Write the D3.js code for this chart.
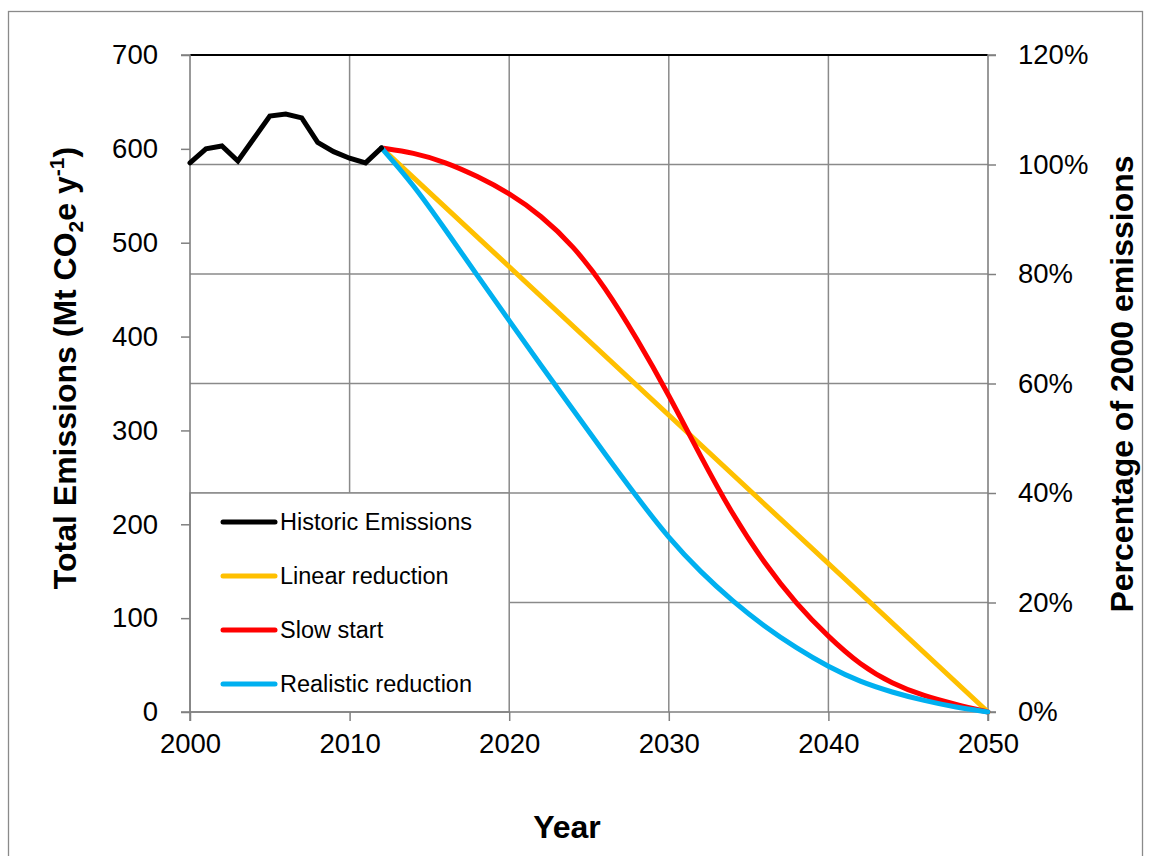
<!DOCTYPE html>
<html>
<head>
<meta charset="utf-8">
<script src="https://cdn.jsdelivr.net/npm/d3@7"></script>
<style>
  html, body { margin: 0; padding: 0; background: #fff; }
  svg { display: block; }
  text { font-family: "Liberation Sans", Arial, sans-serif; fill: #000; }
</style>
</head>
<body>
<svg id="chart" width="1151" height="856"></svg>
<script>
// ---- data ----
const histYears = [2000, 2001, 2002, 2003, 2004, 2005, 2006, 2007, 2008, 2009, 2010, 2011, 2012];
const histValues = [585, 600, 603, 587, 611, 635, 637, 633, 607, 597, 590, 585, 601];

const linearYears = [2012, 2050];
const linearValues = [601, 0];

const projYears = [2012, 2014, 2016, 2018, 2020, 2022, 2024, 2026, 2028, 2030, 2032, 2034, 2036, 2038, 2040, 2042, 2044, 2046, 2048, 2050];
const slowStartValues = [601, 596, 586, 571, 553, 529, 497, 453, 398, 338, 272, 210, 158, 115, 80, 50, 30, 17, 8, 0];
const realisticValues = [601, 562, 514, 465, 417, 369, 322, 275, 229, 185, 149, 118, 91, 68, 48, 32, 21, 12, 5, 0];

const xTicks = [2000, 2010, 2020, 2030, 2040, 2050];
const yLeftTicks = [0, 100, 200, 300, 400, 500, 600, 700];
const yRightTicks = [0, 0.2, 0.4, 0.6, 0.8, 1.0, 1.2];

const seriesNames = ["Historic Emissions", "Linear reduction", "Slow start", "Realistic reduction"];
const seriesColors = ["#000000", "#FFC000", "#FF0000", "#00B0F0"];

// ---- layout ----
const svg = d3.select("#chart");
const L = 190, R = 988, T = 55, B = 712;

const x = d3.scaleLinear().domain([2000, 2050]).range([L, R]);
const yL = d3.scaleLinear().domain([0, 700]).range([B, T]);
const yR = d3.scaleLinear().domain([0, 1.2]).range([B, T]);

const gridColor = "#8a8a8a";

// outer border
svg.append("rect").attr("x", 8.5).attr("y", 11.5).attr("width", 1134).attr("height", 900)
  .attr("fill", "none").attr("stroke", "#8a8a8a").attr("stroke-width", 1.3);

// gridlines
const grid = svg.append("g");
grid.selectAll("line.h").data(yRightTicks.filter(d => d > 0 && d < 1.2)).join("line")
  .attr("x1", L).attr("x2", R).attr("y1", d => yR(d)).attr("y2", d => yR(d))
  .attr("stroke", gridColor).attr("stroke-width", 1.5);
grid.selectAll("line.v").data(xTicks.filter(d => d > 2000 && d < 2050)).join("line")
  .attr("x1", d => x(d)).attr("x2", d => x(d)).attr("y1", T).attr("y2", B)
  .attr("stroke", gridColor).attr("stroke-width", 1.5);

// top border (dark)
svg.append("line").attr("x1", L).attr("x2", R).attr("y1", T).attr("y2", T)
  .attr("stroke", "#000").attr("stroke-width", 2);

// legend box
const legend = svg.append("g");
legend.append("rect").attr("x", L).attr("y", yR(0.4)).attr("width", x(2020) - L).attr("height", B - yR(0.4))
  .attr("fill", "#fff").attr("stroke", gridColor).attr("stroke-width", 1.5);
const legendRowsY = [522, 576, 630, 684];
seriesNames.forEach((name, i) => {
  legend.append("line").attr("x1", 223).attr("x2", 275)
    .attr("y1", legendRowsY[i]).attr("y2", legendRowsY[i])
    .attr("stroke", seriesColors[i]).attr("stroke-width", 5).attr("stroke-linecap", "round");
  legend.append("text").attr("x", 280).attr("y", legendRowsY[i] + 8)
    .attr("font-size", 23.5).text(name);
});

// axes
const axisColor = "#808080";
const gx = svg.append("g").attr("transform", `translate(0,${B})`)
  .call(d3.axisBottom(x).tickValues(xTicks).tickFormat(d3.format("d")).tickSize(9).tickPadding(12));
const gyl = svg.append("g").attr("transform", `translate(${L},0)`)
  .call(d3.axisLeft(yL).tickValues(yLeftTicks).tickSize(9).tickPadding(23));
const gyr = svg.append("g").attr("transform", `translate(${R},0)`)
  .call(d3.axisRight(yR).tickValues(yRightTicks).tickFormat(d3.format(".0%")).tickSize(8).tickPadding(22));
[gx, gyl, gyr].forEach(g => {
  g.select(".domain").attr("stroke", axisColor).attr("stroke-width", 1.6);
  g.selectAll(".tick line").attr("stroke", axisColor).attr("stroke-width", 1.5);
  g.selectAll(".tick text").attr("font-size", 27.5).attr("font-family", "'Liberation Sans', Arial, sans-serif").attr("fill", "#000");
});
gyl.select(".domain").attr("d", `M-9,${T}H0V${B}H-9`);
gyr.select(".domain").attr("d", `M8,${T}H0V${B}H8`);
gx.select(".domain").attr("d", `M${L},9V0H${R}V9`);

// series
const lineLinear = d3.line().x(d => x(d[0])).y(d => yL(d[1]));
const lineSmooth = d3.line().x(d => x(d[0])).y(d => yL(d[1])).curve(d3.curveBasis);

const series = svg.append("g").attr("fill", "none").attr("stroke-width", 5)
  .attr("stroke-linejoin", "round").attr("stroke-linecap", "round");
series.append("path").attr("d", lineLinear(linearYears.map((y, i) => [y, linearValues[i]])))
  .attr("stroke", seriesColors[1]);
series.append("path").attr("d", lineSmooth(projYears.map((y, i) => [y, slowStartValues[i]])))
  .attr("stroke", seriesColors[2]);
series.append("path").attr("d", lineSmooth(projYears.map((y, i) => [y, realisticValues[i]])))
  .attr("stroke", seriesColors[3]);
series.append("path").attr("d", lineLinear(histYears.map((y, i) => [y, histValues[i]])))
  .attr("stroke", seriesColors[0]).attr("stroke-linejoin", "miter");

// axis titles
svg.append("text").attr("x", (L + R) / 2 - 22).attr("y", 838).attr("text-anchor", "middle")
  .attr("font-size", 32).attr("font-weight", "bold").text("Year");

const lt = svg.append("text").attr("transform", "translate(76,368) rotate(-90)")
  .attr("text-anchor", "middle").attr("font-size", 32).attr("font-weight", "bold");
lt.append("tspan").text("Total Emissions (Mt CO");
lt.append("tspan").attr("font-size", 21).attr("dy", 7).text("2");
lt.append("tspan").attr("dy", -7).text("e y");
lt.append("tspan").attr("font-size", 21).attr("dy", -12).text("-1");
lt.append("tspan").attr("dy", 12).text(")");

svg.append("text").attr("transform", "translate(1133,384) rotate(-90)")
  .attr("text-anchor", "middle").attr("font-size", 32).attr("font-weight", "bold")
  .text("Percentage of 2000 emissions");
</script>
</body>
</html>
